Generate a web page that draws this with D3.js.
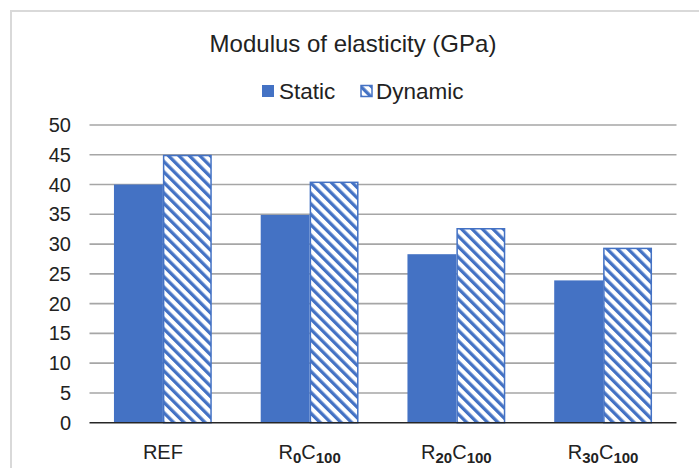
<!DOCTYPE html>
<html><head><meta charset="utf-8">
<script src="https://cdn.jsdelivr.net/npm/d3@7"></script>
<style>body{margin:0;background:#fff}svg{display:block}text{font-family:"Liberation Sans",Arial,sans-serif;fill:#222}</style>
</head><body><svg id="c" width="699" height="468"></svg>
<script>
const categories = [["R","","C",""],["R","0","C","100"],["R","20","C","100"],["R","30","C","100"]];
const categoryNames = ["REF","R0C100","R20C100","R30C100"];
const staticVals = [40.0, 34.9, 28.3, 23.9];
const dynamicVals = [45.0, 40.5, 32.7, 29.4];
const seriesNames = ["Static","Dynamic"];
const yTicks = [0,5,10,15,20,25,30,35,40,45,50];

const svg = d3.select("#c");
const blue = "#4472C4";
const defs = svg.append("defs");
const P = 7.4;
const pat = defs.append("pattern").attr("id","hatch").attr("patternUnits","userSpaceOnUse")
  .attr("width",P).attr("height",P).attr("patternTransform","rotate(-45)");
pat.append("rect").attr("width",P).attr("height",P).attr("fill","#fff");
pat.append("rect").attr("width",3.3).attr("height",P).attr("fill",blue);

// outer border
svg.append("rect").attr("x",11).attr("y",11).attr("width",720).attr("height",500)
  .attr("fill","none").attr("stroke","#d9d9d9").attr("stroke-width",2);

const x0 = d3.scaleBand().domain(categoryNames).range([89.5,676.5]).paddingInner(0).paddingOuter(0);
const y = d3.scaleLinear().domain([0,50]).range([422.7,125]);
const x1 = d3.scaleBand().domain(seriesNames).range([0,x0.bandwidth()]).paddingInner(0).paddingOuter(0.5);

// gridlines
svg.append("g").selectAll("line").data(yTicks.filter(d=>d>0)).join("line")
  .attr("x1",89.5).attr("x2",676.5).attr("y1",d=>y(d)).attr("y2",d=>y(d))
  .attr("stroke","#a6a6a6").attr("stroke-width",1.6);

// y labels
svg.append("g").selectAll("text").data(yTicks).join("text")
  .attr("x",71).attr("y",d=>y(d)).attr("dy","0.35em").attr("text-anchor","end")
  .attr("font-size",20).text(d=>d);

const data = categoryNames.map((c,i)=>({c, vals:[staticVals[i],dynamicVals[i]]}));
const g = svg.append("g");
data.forEach(d=>{
  g.append("rect").attr("x",x0(d.c)+x1("Static")).attr("y",y(d.vals[0]))
    .attr("width",x1.bandwidth()).attr("height",y(0)-y(d.vals[0])).attr("fill",blue);
  g.append("rect").attr("x",x0(d.c)+x1("Dynamic")+0.75).attr("y",y(d.vals[1])+0.75)
    .attr("width",x1.bandwidth()-1.5).attr("height",y(0)-y(d.vals[1])-0.75)
    .attr("fill","url(#hatch)").attr("stroke",blue).attr("stroke-width",1.5);
});

// axis line
svg.append("line").attr("x1",89.5).attr("x2",676.5).attr("y1",y(0)).attr("y2",y(0))
  .attr("stroke","#262626").attr("stroke-width",1.6);

// x labels
categoryNames.forEach((c,i)=>{
  const parts = categories[i];
  const t = svg.append("text").attr("x",x0(c)+x0.bandwidth()/2).attr("y",459)
    .attr("text-anchor","middle").attr("font-size",20);
  if(i===0){ t.text(c); return; }
  t.append("tspan").text(parts[0]);
  t.append("tspan").attr("font-size",15).attr("font-weight","bold").attr("dy",4).text(parts[1]);
  t.append("tspan").attr("dy",-4).text(parts[2]);
  t.append("tspan").attr("font-size",15).attr("font-weight","bold").attr("dy",4).text(parts[3]);
});

// title
svg.append("text").attr("x",353).attr("y",52).attr("text-anchor","middle").attr("font-size",24)
  .text("Modulus of elasticity (GPa)");

// legend
const lg = svg.append("g");
lg.append("rect").attr("x",262).attr("y",85).attr("width",12).attr("height",12).attr("fill",blue);
lg.append("text").attr("x",279).attr("y",99).attr("font-size",22.5).text(seriesNames[0]);
lg.append("rect").attr("x",361).attr("y",85.5).attr("width",11).attr("height",11)
  .attr("fill","url(#hatch)").attr("stroke",blue).attr("stroke-width",1.5);
lg.append("text").attr("x",376).attr("y",99).attr("font-size",22.5).text(seriesNames[1]);
</script></body></html>
